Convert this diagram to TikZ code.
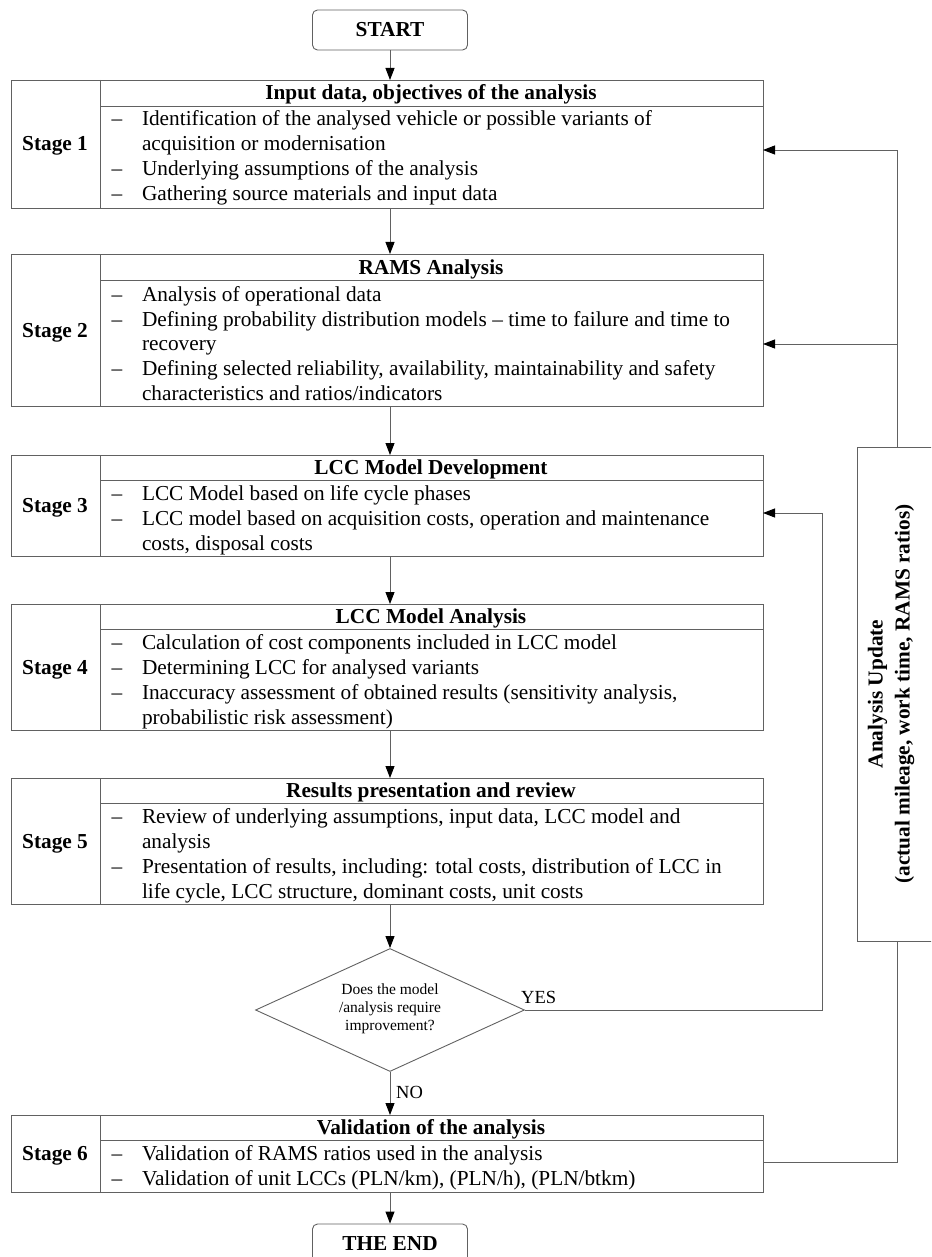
\documentclass[tikz,border=0pt]{standalone}
\usepackage{fontspec}
\setmainfont{Liberation Serif}
\usetikzlibrary{arrows.meta,shapes.geometric}
\newcommand\fsz{\fontsize{21.3}{25}\selectfont}
\newcommand\bl[3]{\node[txt, anchor=base west] (#1) at (142,#2) {#3};}
\newcommand\ds[2]{\node[txt, anchor=base] (#1) at (117,#2) {–};}
\newcommand\stg[6]{%
  \node[box, anchor=north west, minimum width=752pt, minimum height={#3-#2}] (#1) at (11,#2) {};
  \draw[ln] (100,#2) -- (100,#3);
  \draw[ln] (100,#4) -- (763,#4);
  \node[lbl, anchor=base] (#1lab) at (55,#6) {#5};
}
\begin{document}
\begin{tikzpicture}[x=1pt,y=-1pt,
  ln/.style={draw=black!62, line width=0.9pt},
  arr/.style={ln, -{Triangle[length=12pt,width=9pt,color=black]}},
  box/.style={ln, rectangle, inner sep=0pt, outer sep=0pt},
  txt/.style={font=\fsz, inner sep=0pt, outer sep=0pt},
  hdr/.style={font=\fsz\bfseries, inner sep=0pt},
  lbl/.style={font=\fsz\bfseries, inner sep=0pt},
  yn/.style={font=\fontsize{18.5}{22}\selectfont, inner sep=0pt},
  term/.style={ln, rectangle, rounded corners=5pt, minimum width=155pt, minimum height=40pt, font=\fsz\bfseries, inner sep=0pt},
]
\useasboundingbox (0,0) rectangle (931,1257);
\clip (0,0) rectangle (931,1257);

% START
\node[term] (start) at (390,30) {START};

% Stage 1
\stg{s1}{80}{208}{106}{Stage 1}{151}
\node[hdr, anchor=base] (s1h) at (431,100) {Input data, objectives of the analysis};
\ds{s1d1}{126}\bl{s1t1}{126}{Identification of the analysed vehicle or possible variants of}
\bl{s1t2}{151}{acquisition or modernisation}
\ds{s1d2}{176}\bl{s1t3}{176}{Underlying assumptions of the analysis}
\ds{s1d3}{201}\bl{s1t4}{201}{Gathering source materials and input data}

% Stage 2
\stg{s2}{254}{406}{280}{Stage 2}{337}
\node[hdr, anchor=base] (s2h) at (431,274) {RAMS Analysis};
\ds{s2d1}{301}\bl{s2t1}{301}{Analysis of operational data}
\ds{s2d2}{326}\bl{s2t2}{326}{Defining probability distribution models – time to failure and time to}
\bl{s2t3}{350.5}{recovery}
\ds{s2d3}{375.5}\bl{s2t4}{375.5}{Defining selected reliability, availability, maintainability and safety}
\bl{s2t5}{400.5}{characteristics and ratios/indicators}

% Stage 3
\stg{s3}{455}{556}{480}{Stage 3}{512}
\node[hdr, anchor=base] (s3h) at (431,474.5) {LCC Model Development};
\ds{s3d1}{500}\bl{s3t1}{500}{LCC Model based on life cycle phases}
\ds{s3d2}{525}\bl{s3t2}{525}{LCC model based on acquisition costs, operation and maintenance}
\bl{s3t3}{550}{costs, disposal costs}

% Stage 4
\stg{s4}{604}{730}{629}{Stage 4}{674}
\node[hdr, anchor=base] (s4h) at (431,623) {LCC Model Analysis};
\ds{s4d1}{649}\bl{s4t1}{649}{Calculation of cost components included in LCC model}
\ds{s4d2}{674}\bl{s4t2}{674}{Determining LCC for analysed variants}
\ds{s4d3}{699}\bl{s4t3}{699}{Inaccuracy assessment of obtained results (sensitivity analysis,}
\bl{s4t4}{724}{probabilistic risk assessment)}

% Stage 5
\stg{s5}{778}{904}{803}{Stage 5}{848}
\node[hdr, anchor=base] (s5h) at (431,797) {Results presentation and review};
\ds{s5d1}{823.5}\bl{s5t1}{823.5}{Review of underlying assumptions, input data, LCC model and}
\bl{s5t2}{848.5}{analysis}
\ds{s5d2}{873.5}\bl{s5t3}{873.5}{Presentation of results, including: total costs, distribution of LCC in}
\bl{s5t4}{898.5}{life cycle, LCC structure, dominant costs, unit costs}

% Decision
\node[ln, diamond, aspect=2.19, minimum width=269pt, minimum height=123pt, inner sep=0pt] (dia) at (390,1010) {};
\node[align=center, font=\fontsize{15.5}{18}\selectfont, inner sep=0pt] (diat) at (390,1009) {Does the model\\/analysis require\\improvement?};
\node[yn, anchor=base west] (yes) at (521,1003) {YES};
\node[yn, anchor=base west] (no) at (396,1098) {NO};

% Stage 6
\stg{s6}{1115}{1192}{1140}{Stage 6}{1160}
\node[hdr, anchor=base] (s6h) at (431,1134) {Validation of the analysis};
\ds{s6d1}{1160}\bl{s6t1}{1160}{Validation of RAMS ratios used in the analysis}
\ds{s6d2}{1185}\bl{s6t2}{1185}{Validation of unit LCCs (PLN/km), (PLN/h), (PLN/btkm)}

% END
\node[term] (end) at (390,1244) {THE END};

% Analysis update box
\node[box, anchor=north west, minimum width=80pt, minimum height=494pt] (upd) at (857,447) {};
\node[align=center, rotate=90, font=\fontsize{21.3}{27}\selectfont\bfseries, inner sep=0pt] (updt) at (891,694) {Analysis Update\\(actual mileage, work time, RAMS ratios)};

% main flow
\draw[arr] (start) -- (start |- s1.north);
\draw[arr] (s1.south -| start) -- (s2.north -| start);
\draw[arr] (s2.south -| start) -- (s3.north -| start);
\draw[arr] (s3.south -| start) -- (s4.north -| start);
\draw[arr] (s4.south -| start) -- (s5.north -| start);
\draw[arr] (s5.south -| start) -- (dia.north);
\draw[arr] (dia.south) -- (dia.south |- s6.north);
\draw[arr] (s6.south -| start) -- (end);

% inner loop (YES)
\coordinate (l1) at (822,1010);
\coordinate (l2) at (822,513);
\draw[arr] (dia.east) -- (l1) -- (l2) -- (s3.east |- l2);

% outer loop (analysis update)
\coordinate (o1) at (897,1162);
\coordinate (o2) at (897,150);
\coordinate (o3) at (897,344);
\draw[ln] (s6.east |- o1) -- (o1) -- (upd.south);
\draw[arr] (upd.north) -- (o2) -- (s1.east |- o2);
\draw[arr] (o3) -- (s2.east |- o3);
\end{tikzpicture}
\end{document}
